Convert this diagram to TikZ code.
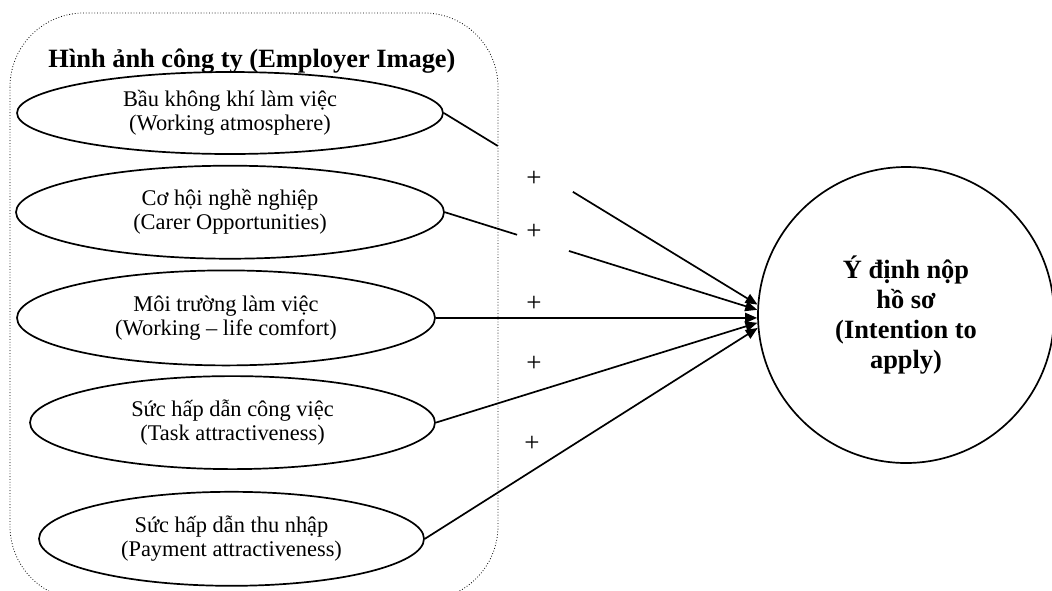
\documentclass[tikz,border=0pt]{standalone}
\usepackage{fontspec}
\setmainfont{Liberation Serif}
\usetikzlibrary{arrows.meta, positioning, shapes.geometric}
\tikzset{factor/.style={ellipse,draw,fill=white,line width=0.85pt,align=center,inner sep=0pt,font=\fontsize{11.2}{12}\selectfont},target/.style={circle,draw,line width=0.85pt,align=center,minimum size=148pt,font=\bfseries\fontsize{13.2}{15}\selectfont},heading/.style={font=\bfseries\fontsize{13.2}{15}\selectfont,inner sep=0pt},sign/.style={font=\fontsize{13.5}{14}\selectfont,inner sep=1pt},line/.style={line width=0.85pt,-{Triangle[length=6pt,width=5pt]}},group/.style={densely dotted,line width=0.4pt,rounded corners=37pt}}

\begin{document}
\begin{tikzpicture}[x=0.5pt,y=-0.5pt,node distance=5pt]
\useasboundingbox (0,0) rectangle (1052,590);
\draw[group] (10,13) rectangle (498,600);
\node[heading, anchor=base] (ttl) at (252,67) {Hình ảnh công ty (Employer Image)};
\node[factor, minimum width=213pt, minimum height=41pt] (e1) at (230,113) {Bầu không khí làm việc\\(Working atmosphere)};
\node[factor, minimum width=214pt, minimum height=46.5pt, below=of e1] (e2) {Cơ hội nghề nghiệp\\(Carer Opportunities)};
\node[factor, minimum width=209pt, minimum height=47.5pt, below=of e2, xshift=-2pt] (e3) {Môi trường làm việc\\(Working – life comfort)};
\node[factor, minimum width=202.5pt, minimum height=46.5pt, below=4.5pt of e3, xshift=3.25pt] (e4) {Sức hấp dẫn công việc\\(Task attractiveness)};
\node[factor, minimum width=192.5pt, minimum height=47pt, below=10.5pt of e4, xshift=-0.5pt] (e5) {Sức hấp dẫn thu nhập\\(Payment attractiveness)};
\node[target] (c) at (906,315) {Ý định nộp\\hồ sơ\\(Intention to\\apply)};
\draw[line, dash pattern=on 31.6pt off 44pt on 500pt off 0pt] (e1.east) -- (c.176);
\draw[line, dash pattern=on 37.8pt off 27.2pt on 500pt off 0pt] (e2.east) -- (c.178);
\draw[line] (e3.east) -- (e3.east -| c.west);
\draw[line] (e4.east) -- (c.183);
\draw[line] (e5.east) -- (c.185);
\node[sign] (p1) at (534,179) {+};
\node[sign] (p2) at (534,232) {+};
\node[sign] (p3) at (534,304) {+};
\node[sign] (p4) at (534,364) {+};
\node[sign] (p5) at (532,444) {+};
\end{tikzpicture}
\end{document}
